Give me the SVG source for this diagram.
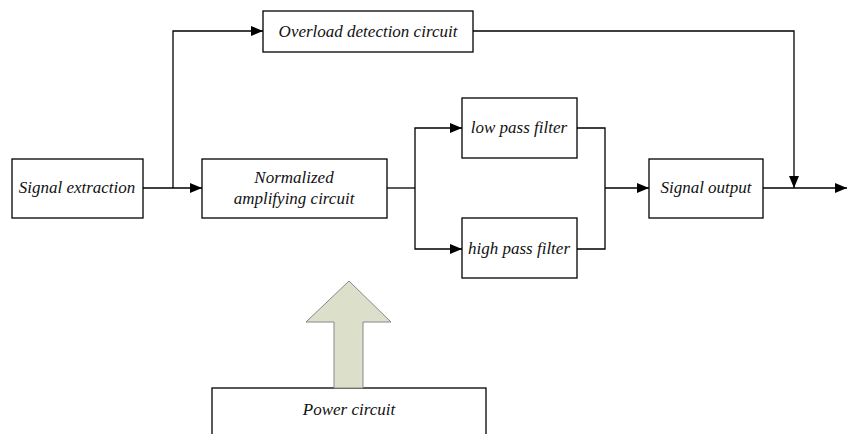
<svg xmlns="http://www.w3.org/2000/svg" width="847" height="434" viewBox="0 0 847 434">
<defs>
<marker id="ah" markerWidth="12" markerHeight="10" refX="12" refY="5" orient="auto" markerUnits="userSpaceOnUse">
<path d="M0,0 L12,5 L0,10 Z" fill="#000"/>
</marker>
<style>
.box{fill:#fff;stroke:#000;stroke-width:1.3}
.t{font-family:'Liberation Serif','DejaVu Serif',serif;font-style:italic;font-size:17px;fill:#111;text-anchor:middle}
.c{fill:none;stroke:#000;stroke-width:1.3}
</style>
</defs>
<rect width="847" height="434" fill="#fff"/>
<g id="connectors">
<path class="c" d="M143,188 H202" marker-end="url(#ah)"/>
<path class="c" d="M173,188 V31 H263" marker-end="url(#ah)"/>
<path class="c" d="M473,31 H794 V188" marker-end="url(#ah)"/>
<path class="c" d="M387,188 H415"/>
<path class="c" d="M415,188 V128 H462" marker-end="url(#ah)"/>
<path class="c" d="M415,188 V249 H462" marker-end="url(#ah)"/>
<path class="c" d="M577,128 H605 V249 H577"/>
<path class="c" d="M605,188 H649" marker-end="url(#ah)"/>
<path class="c" d="M763,188 H847" marker-end="url(#ah)"/>
</g>
<g id="signal-extraction"><rect class="box" x="12" y="159" width="131" height="59"/><text class="t" x="77" y="193">Signal extraction</text></g>
<g id="normalized"><rect class="box" x="202" y="159" width="185" height="59"/><text class="t" x="294" y="183" font-size="16">Normalized</text><text class="t" x="294" y="204" font-size="15">amplifying circuit</text></g>
<g id="overload"><rect class="box" x="263" y="11" width="210" height="41"/><text class="t" x="368" y="37">Overload detection circuit</text></g>
<g id="low-pass"><rect class="box" x="462" y="98" width="115" height="60"/><text class="t" x="519" y="133">low pass filter</text></g>
<g id="high-pass"><rect class="box" x="462" y="218" width="115" height="60"/><text class="t" x="519" y="254">high pass filter</text></g>
<g id="signal-output"><rect class="box" x="649" y="159" width="114" height="59"/><text class="t" x="706" y="193">Signal output</text></g>
<g id="power"><rect class="box" x="212" y="388" width="274" height="60"/><text class="t" x="349" y="415" font-size="15">Power circuit</text>
<path d="M334,388 V322 H306 L349,281 L391,322 H363 V388 Z" fill="#dcdfca" stroke="#888" stroke-width="1"/></g>
</svg>
